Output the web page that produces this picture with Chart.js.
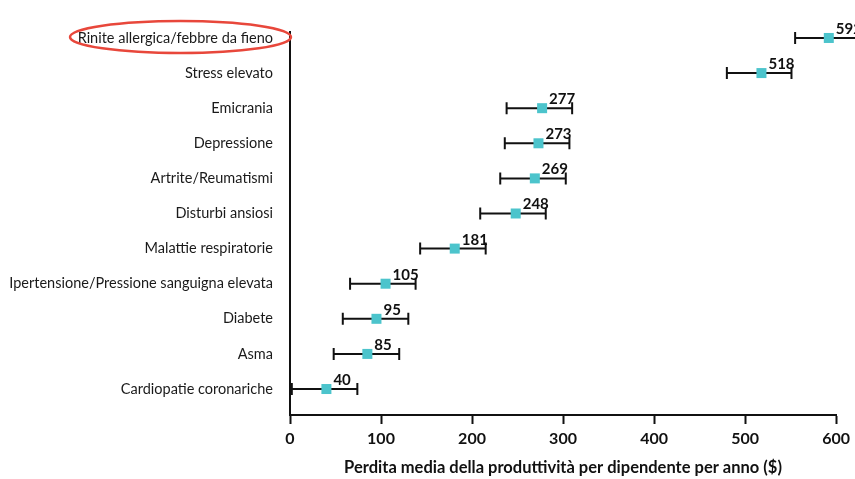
<!DOCTYPE html>
<html>
<head>
<meta charset="utf-8">
<script src="https://cdn.jsdelivr.net/npm/chart.js@4/dist/chart.umd.min.js"></script>
<style>
  html, body { margin: 0; padding: 0; background: #ffffff; }
  #wrap { width: 855px; height: 479px; position: relative; }
</style>
</head>
<body>
<div id="wrap"><canvas id="c" width="855" height="479"></canvas></div>
<script>
// Condizioni di salute (dall'alto verso il basso)
const categories = [
  'Rinite allergica/febbre da fieno',
  'Stress elevato',
  'Emicrania',
  'Depressione',
  'Artrite/Reumatismi',
  'Disturbi ansiosi',
  'Malattie respiratorie',
  'Ipertensione/Pressione sanguigna elevata',
  'Diabete',
  'Asma',
  'Cardiopatie coronariche'
];
// Perdita media della produttività per dipendente per anno ($)
const meanLoss = [592, 518, 277, 273, 269, 248, 181, 105, 95, 85, 40];
// Estremi inferiore e superiore degli intervalli
const lowerBound = [555, 480, 238, 236, 231, 209, 143, 66, 58, 48, 2];
const upperBound = [628, 551, 310, 307, 303, 281, 215, 138, 130, 120, 74];
const xTicks = [0, 100, 200, 300, 400, 500, 600];

const FONT = 'Lato, "Open Sans", "DejaVu Sans", sans-serif';

// Barre d'errore orizzontali con stanghette e etichette dei valori
const errorBars = {
  id: 'errorBars',
  afterDatasetsDraw(chart) {
    const ctx = chart.ctx;
    const xs = chart.scales.x, ys = chart.scales.y;
    ctx.save();
    ctx.strokeStyle = '#111111';
    ctx.lineWidth = 2;
    categories.forEach((_, i) => {
      const y = ys.getPixelForValue(i);
      const x1 = xs.getPixelForValue(lowerBound[i]);
      const x2 = xs.getPixelForValue(upperBound[i]);
      ctx.beginPath();
      ctx.moveTo(x1, y); ctx.lineTo(x2, y);
      ctx.moveTo(x1, y - 6); ctx.lineTo(x1, y + 6);
      ctx.moveTo(x2, y - 6); ctx.lineTo(x2, y + 6);
      ctx.stroke();
    });
    // marcatori sopra le barre
    const meta = chart.getDatasetMeta(0);
    ctx.fillStyle = '#4cc4cc';
    meta.data.forEach(pt => {
      ctx.fillRect(pt.x - 5, pt.y - 5, 10, 10);
    });
    ctx.fillStyle = '#111111';
    ctx.font = 'bold 15px ' + FONT;
    ctx.textAlign = 'left';
    ctx.textBaseline = 'alphabetic';
    meta.data.forEach((pt, i) => {
      ctx.fillText(String(meanLoss[i]), pt.x + 7, pt.y - 4);
    });
    ctx.restore();
  }
};

// Ellisse rossa attorno alla prima voce
const highlight = {
  id: 'highlight',
  afterDraw(chart) {
    const ctx = chart.ctx;
    const y = chart.scales.y.getPixelForValue(0);
    ctx.save();
    ctx.strokeStyle = '#e8473b';
    ctx.lineWidth = 2.5;
    ctx.beginPath();
    ctx.ellipse(180.5, y - 1, 110.5, 16, 0, 0, Math.PI * 2);
    ctx.stroke();
    ctx.restore();
  }
};

new Chart(document.getElementById('c'), {
  type: 'scatter',
  data: {
    datasets: [{
      data: meanLoss.map((v, i) => ({ x: v, y: i })),
      pointRadius: 0,
      pointHoverRadius: 0,
      backgroundColor: '#4cc4cc',
      showLine: false
    }]
  },
  options: {
    responsive: false,
    animation: false,
    events: [],
    layout: { padding: { top: 32, right: 15, left: 0, bottom: 0 } },
    plugins: { legend: { display: false }, tooltip: { enabled: false } },
    scales: {
      x: {
        type: 'linear',
        min: 0,
        max: 600,
        afterBuildTicks: s => { s.ticks = xTicks.map(v => ({ value: v })); },
        afterFit: s => { s.height = 64; },
        grid: { display: true, drawOnChartArea: false, drawTicks: true, tickLength: 9, tickWidth: 2, color: '#111111' },
        border: { display: true, color: '#111111', width: 2 },
        ticks: { color: '#111111', padding: 5, font: { family: FONT, size: 16, weight: 'bold' } },
        title: {
          display: true,
          text: 'Perdita media della produttività per dipendente per anno ($)',
          color: '#111111',
          font: { family: FONT, size: 16.5, weight: 'bold' },
          padding: { top: 0, bottom: 1 }
        }
      },
      y: {
        type: 'linear',
        reverse: true,
        min: -0.17,
        max: 10.74,
        afterBuildTicks: s => { s.ticks = categories.map((_, i) => ({ value: i })); },
        afterFit: s => { s.width = 290; },
        grid: { display: false, drawTicks: false },
        border: { display: true, color: '#111111', width: 2 },
        ticks: {
          color: '#1a1a1a',
          padding: 17,
          font: { family: FONT, size: 14.5 },
          callback: v => categories[v] ?? ''
        }
      }
    }
  },
  plugins: [errorBars, highlight]
});
</script>
</body>
</html>
